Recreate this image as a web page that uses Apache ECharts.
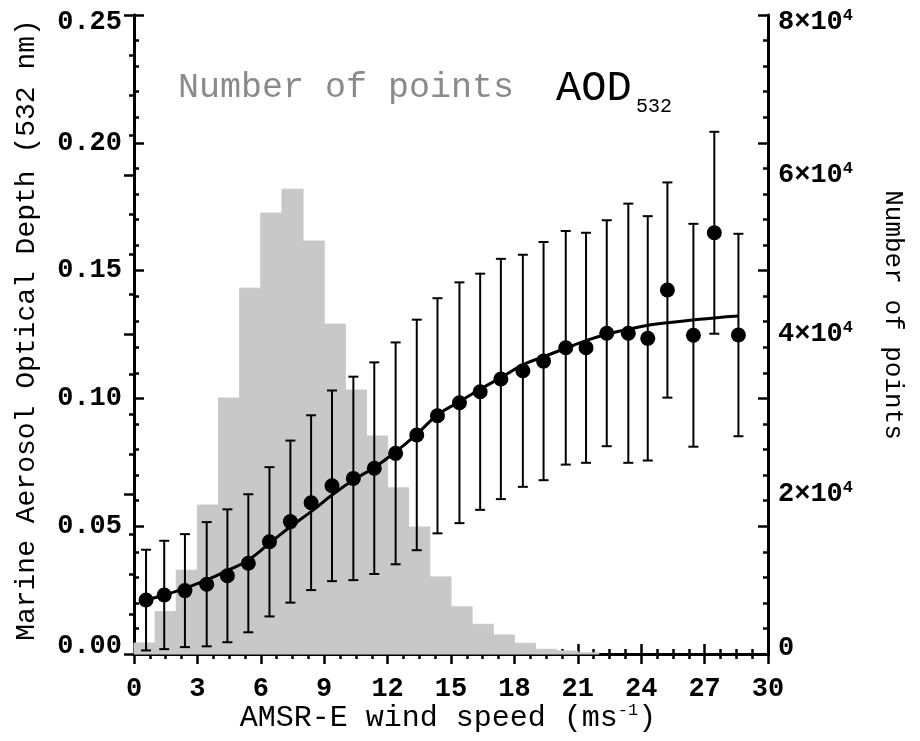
<!DOCTYPE html>
<html>
<head>
<meta charset="utf-8">
<script src="https://cdn.jsdelivr.net/npm/echarts@6/dist/echarts.min.js"></script>
<style>
  html, body { margin: 0; padding: 0; background: #fff; }
  #chart { width: 920px; height: 741px; }
</style>
</head>
<body>
<div id="chart"></div>
<script>
/* histogram of points per 1 m/s wind bin */
var binEdges = [0, 1, 2, 3, 4, 5, 6, 7, 8, 9, 10, 11, 12, 13, 14, 15, 16, 17, 18, 19, 20, 21, 22];
var histCounts = [1380, 5300, 10500, 18650, 32050, 45800, 55200, 58200, 51700, 41300, 33050,
                  27300, 20800, 15900, 9650, 5900, 3720, 2380, 1340, 590, 380, 150];

/* mean AOD per bin with standard deviation */
var windSpeed = [0.57, 1.43, 2.41, 3.44, 4.42, 5.41, 6.41, 7.40, 8.38, 9.37, 10.38, 11.37, 12.38, 13.38,
                 14.36, 15.40, 16.38, 17.36, 18.40, 19.38, 20.43, 21.39, 22.37, 23.39, 24.31, 25.24,
                 26.47, 27.46, 28.60];
var aodMean = [0.0211, 0.0231, 0.0248, 0.0273, 0.0306, 0.0355, 0.0439, 0.0518, 0.0592, 0.0658, 0.0687,
               0.0727, 0.0785, 0.0857, 0.0932, 0.0983, 0.1026, 0.1076, 0.1108, 0.1146, 0.1198, 0.1198,
               0.1255, 0.1255, 0.1235, 0.1424, 0.1247, 0.1648, 0.1248];
var aodStd = [0.0197, 0.0212, 0.0221, 0.0243, 0.0260, 0.0270, 0.0292, 0.0317, 0.0342, 0.0373, 0.0398,
              0.0414, 0.0434, 0.0451, 0.0460, 0.0471, 0.0462, 0.0470, 0.0454, 0.0466, 0.0457, 0.0450,
              0.0442, 0.0507, 0.0478, 0.0421, 0.0436, 0.0395, 0.0396];

/* fitted curve, read at the same wind speeds */
var aodFit = [0.0211, 0.0231, 0.0257, 0.0290, 0.0326, 0.0368, 0.0433, 0.0498, 0.0557, 0.0622, 0.0681,
              0.0730, 0.0791, 0.0860, 0.0935, 0.0987, 0.1036, 0.1081, 0.1131, 0.1163, 0.1196, 0.1226,
              0.1251, 0.1270, 0.1286, 0.1296, 0.1307, 0.1315, 0.1322];

var xTicks = { min: 0, max: 30, step: 3 };
var aodTicks = { min: 0, max: 0.25, step: 0.05 };
var countTicks = { min: 0, max: 80000, step: 20000 };

var FONT = '"Liberation Mono", "DejaVu Sans Mono", monospace';
var GRID_L = 134, GRID_R = 768, GRID_T = 15, GRID_B = 654;

var chart = echarts.init(document.getElementById('chart'), null, { renderer: 'canvas' });

var histData = [];
for (var i = 0; i < histCounts.length; i++) {
    histData.push([binEdges[i], binEdges[i + 1], histCounts[i]]);
}
var errData = [];
var dotData = [];
var fitData = [];
for (var j = 0; j < windSpeed.length; j++) {
    errData.push([windSpeed[j], aodMean[j] - aodStd[j], aodMean[j] + aodStd[j]]);
    dotData.push([windSpeed[j], aodMean[j]]);
    fitData.push([windSpeed[j], aodFit[j]]);
}

function baseAxis(t) {
    return {
        type: 'value',
        min: t.min, max: t.max, interval: t.step,
        splitLine: { show: false },
        axisLine: { show: true, lineStyle: { color: '#000', width: 3 } },
        axisTick: { show: true, inside: true, length: 10, lineStyle: { color: '#000', width: 2.5 } },
        minorTick: { show: true, length: 5, lineStyle: { color: '#000', width: 2.5 } }
    };
}

/* end labels sit a bit inside the frame, like the original */
function tickStyle(extra) {
    var s = { fontFamily: FONT, fontWeight: 'bold', fontSize: 27, color: '#000', lineHeight: 30 };
    for (var k in extra) s[k] = extra[k];
    return s;
}
function supStyle(extra) {
    var s = { fontFamily: FONT, fontWeight: 'bold', fontSize: 17, color: '#000', verticalAlign: 'top', lineHeight: 30 };
    for (var k in extra) s[k] = extra[k];
    return s;
}

var xMain = baseAxis(xTicks);
xMain.position = 'bottom';
xMain.minorTick.splitNumber = 4;
xMain.axisLabel = { margin: 22, color: '#000', fontFamily: FONT, fontWeight: 'bold', fontSize: 27 };

var xTop = baseAxis(xTicks);
xTop.position = 'top';
xTop.minorTick.splitNumber = 4;
xTop.axisLabel = { show: false };

var yLeft = baseAxis(aodTicks);
yLeft.position = 'left';
yLeft.minorTick.splitNumber = 5;
yLeft.axisLabel = {
    margin: 12,
    formatter: function (v) {
        if (v === aodTicks.min) return '{lo|' + v.toFixed(2) + '}';
        if (Math.abs(v - aodTicks.max) < 1e-9) return '{hi|' + v.toFixed(2) + '}';
        return '{m|' + v.toFixed(2) + '}';
    },
    rich: {
        m: tickStyle({}),
        lo: tickStyle({ padding: [0, 0, 16, 0] }),
        hi: tickStyle({ padding: [14, 0, 0, 0] })
    }
};

var yCount = baseAxis(countTicks);
yCount.position = 'right';
yCount.offset = 0;
yCount.minorTick.splitNumber = 4;
yCount.axisLabel = {
    margin: 10,
    formatter: function (v) {
        if (v === 0) return '{lo|0}';
        if (v === countTicks.max) return '{hi|' + (v / 10000) + '×10}{hs|4}';
        return '{a|' + (v / 10000) + '×10}{s|4}';
    },
    rich: {
        a: tickStyle({}),
        s: supStyle({}),
        lo: tickStyle({ padding: [0, 0, 12, 0] }),
        hi: tickStyle({ padding: [14, 0, 0, 0] }),
        hs: supStyle({ padding: [7, 0, 0, 0] })
    }
};

var yMirror = baseAxis(aodTicks);
yMirror.position = 'right';
yMirror.offset = 0;
yMirror.minorTick.splitNumber = 5;
yMirror.axisLabel = { show: false };

option = {
    backgroundColor: '#fff',
    animation: false,
    grid: {
        left: GRID_L, right: 920 - GRID_R, top: GRID_T, bottom: 741 - GRID_B,
        containLabel: false, outerBoundsMode: 'none'
    },
    xAxis: [xMain, xTop],
    yAxis: [yLeft, yCount, yMirror],
    graphic: [
        {
            type: 'text', x: 27, y: 330, rotation: Math.PI / 2,
            style: {
                text: 'Marine Aerosol Optical Depth (532 nm)', fill: '#000',
                font: '28px ' + FONT, align: 'center', verticalAlign: 'middle'
            }
        },
        {
            type: 'text', x: 448, y: 718,
            style: {
                text: '{t|AMSR-E wind speed (ms}{s|-1}{t|)}', align: 'center', verticalAlign: 'middle',
                rich: {
                    t: { fontFamily: FONT, fontSize: 30, fill: '#000', lineHeight: 32 },
                    s: { fontFamily: FONT, fontSize: 17, fill: '#000', verticalAlign: 'top', lineHeight: 32 }
                }
            }
        },
        {
            type: 'text', x: 893, y: 315, rotation: -Math.PI / 2,
            style: {
                text: 'Number of points', fill: '#000',
                font: '26px ' + FONT, align: 'center', verticalAlign: 'middle'
            }
        },
        {
            type: 'text', x: 178, y: 88,
            style: {
                text: 'Number of points', fill: '#8a8a8a',
                font: '35px ' + FONT, align: 'left', verticalAlign: 'middle'
            }
        },
        {
            type: 'text', x: 556, y: 89,
            style: {
                text: 'AOD', fill: '#000',
                font: '42px ' + FONT, align: 'left', verticalAlign: 'middle'
            }
        },
        {
            type: 'text', x: 636, y: 107,
            style: {
                text: '532', fill: '#000',
                font: '20px ' + FONT, align: 'left', verticalAlign: 'middle'
            }
        }
    ],
    series: [
        {
            /* gray histogram on the count axis */
            name: 'Number of points',
            type: 'custom',
            xAxisIndex: 0,
            yAxisIndex: 1,
            z: 1,
            data: histData,
            renderItem: function (params, api) {
                var p0 = api.coord([api.value(0), api.value(2)]);
                var p1 = api.coord([api.value(1), 0]);
                return {
                    type: 'rect',
                    shape: { x: p0[0], y: p0[1], width: p1[0] - p0[0], height: p1[1] - p0[1] },
                    style: { fill: '#c8c8c8', stroke: '#c8c8c8', lineWidth: 1 }
                };
            }
        },
        {
            name: 'fit',
            type: 'line',
            xAxisIndex: 0,
            yAxisIndex: 0,
            z: 3,
            smooth: true,
            showSymbol: false,
            data: fitData,
            lineStyle: { color: '#000', width: 3 }
        },
        {
            /* error bars +/- 1 std */
            name: 'std',
            type: 'custom',
            xAxisIndex: 0,
            yAxisIndex: 0,
            z: 4,
            data: errData,
            renderItem: function (params, api) {
                var lo = api.coord([api.value(0), api.value(1)]);
                var hi = api.coord([api.value(0), api.value(2)]);
                var cap = 5;
                var st = { stroke: '#000', lineWidth: 2 };
                return {
                    type: 'group',
                    children: [
                        { type: 'line', shape: { x1: lo[0], y1: lo[1], x2: hi[0], y2: hi[1] }, style: st },
                        { type: 'line', shape: { x1: lo[0] - cap, y1: lo[1], x2: lo[0] + cap, y2: lo[1] }, style: st },
                        { type: 'line', shape: { x1: hi[0] - cap, y1: hi[1], x2: hi[0] + cap, y2: hi[1] }, style: st }
                    ]
                };
            }
        },
        {
            name: 'AOD532',
            type: 'scatter',
            xAxisIndex: 0,
            yAxisIndex: 0,
            z: 5,
            symbol: 'circle',
            symbolSize: 15,
            data: dotData,
            itemStyle: { color: '#000', opacity: 1 }
        }
    ]
};

chart.setOption(option);
</script>
</body>
</html>
